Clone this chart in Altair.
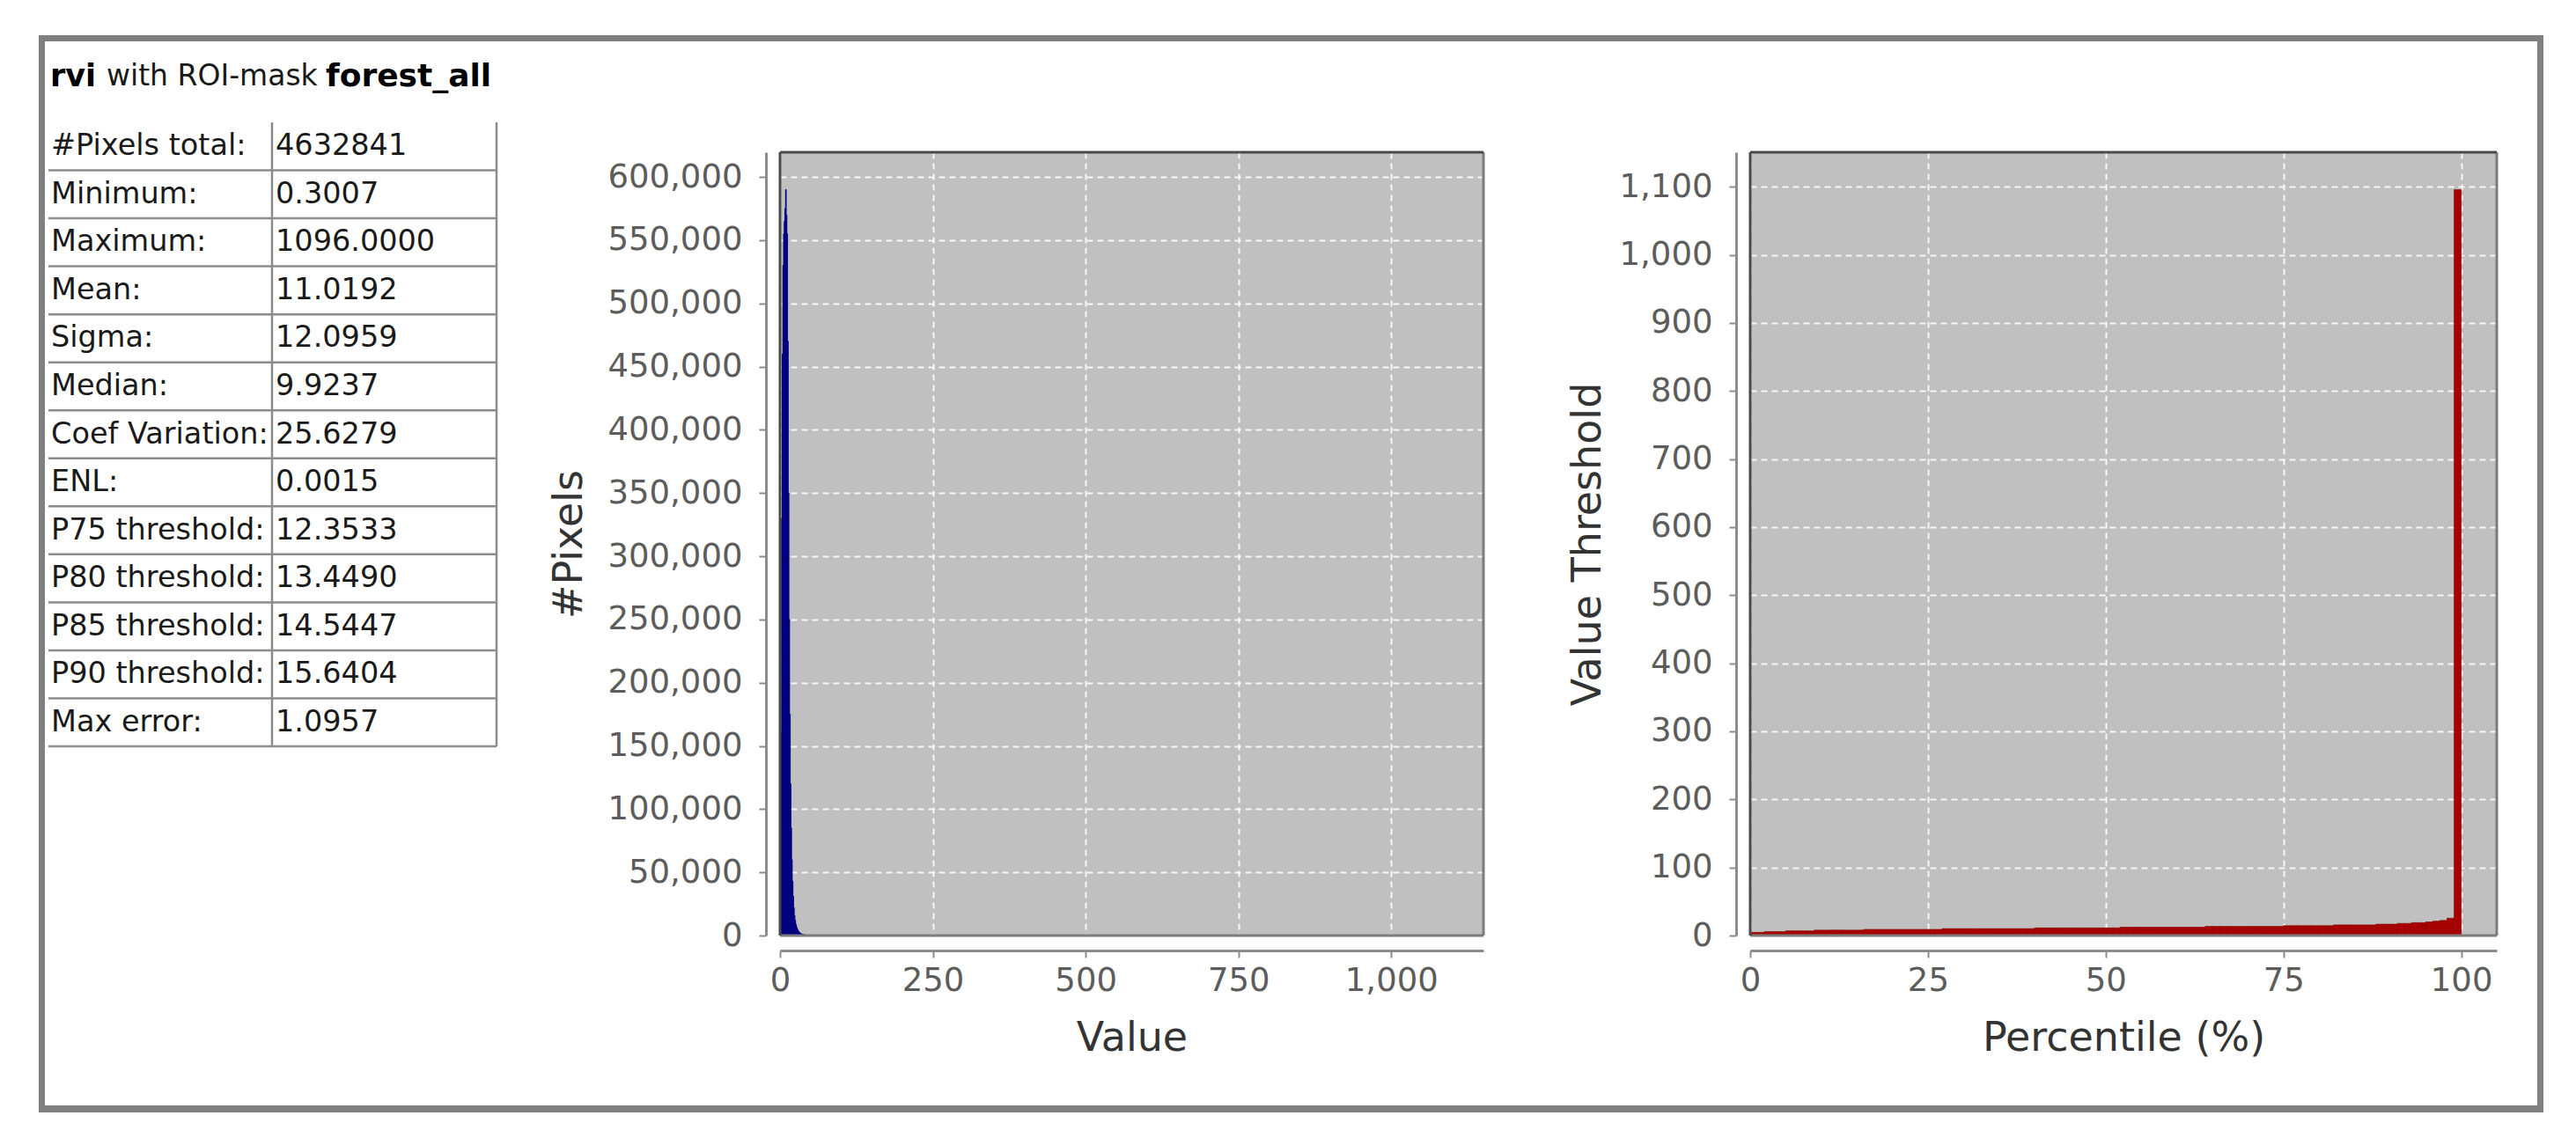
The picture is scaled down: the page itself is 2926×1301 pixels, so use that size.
import altair as alt
import pandas as pd

FONT = "DejaVu Sans"

# ---------------- data ----------------
TITLE_PARTS = ["rvi", "with ROI-mask", "forest_all"]

STAT_LABELS = [
    "#Pixels total:", "Minimum:", "Maximum:", "Mean:", "Sigma:", "Median:",
    "Coef Variation:", "ENL:", "P75 threshold:", "P80 threshold:",
    "P85 threshold:", "P90 threshold:", "Max error:",
]
STAT_VALUES = [
    "4632841", "0.3007", "1096.0000", "11.0192", "12.0959", "9.9237",
    "25.6279", "0.0015", "12.3533", "13.4490", "14.5447", "15.6404", "1.0957",
]

HIST_MIN = 0.3007
HIST_BIN_WIDTH = 1.0957
# counts of the first histogram bins (bin 0 starts at HIST_MIN)
HIST_COUNTS = [
    40000, 160000, 330000, 460000, 530000, 555000, 565000, 575000, 590000, 570000,
    555000, 470000, 350000, 250000, 175000, 120000, 85000, 60000, 43000, 31000,
    22000, 16000, 12000, 9000, 7000, 5500, 4300, 3400, 2700, 2100,
    1700, 1400, 1150, 950, 800, 680, 580, 500, 430, 370,
    320, 280, 245, 215, 190, 170, 150, 135, 120, 108,
    97, 88, 80, 72, 65, 59, 54, 49, 45, 41,
    37, 34, 31, 28, 26, 24, 22, 20, 18, 17,
    15, 14, 13, 12, 11, 10, 9, 8, 8, 7, 7, 6,
]
# sparse far tail
HIST_TAIL_BINS = [96, 118, 141, 187, 263, 412, 999]
HIST_TAIL_COUNTS = [5, 3, 2, 1, 1, 1, 1]

# value threshold of each 1 % percentile bar (bar i spans i .. i+1 %)
PERCENTILE_THRESHOLDS = [
    4.68, 4.68, 5.78, 5.78, 5.78, 6.87, 6.87, 6.87, 6.87, 7.97,
    7.97, 7.97, 7.97, 7.97, 7.97, 7.97, 9.07, 9.07, 9.07, 9.07,
    9.07, 9.07, 9.07, 9.07, 9.07, 9.07, 9.07, 10.16, 10.16, 10.16,
    10.16, 10.16, 10.16, 10.16, 10.16, 10.16, 10.16, 10.16, 10.16, 10.16,
    11.26, 11.26, 11.26, 11.26, 11.26, 11.26, 11.26, 11.26, 11.26, 11.26,
    11.26, 11.26, 12.35, 12.35, 12.35, 12.35, 12.35, 12.35, 12.35, 12.35,
    12.35, 12.35, 12.35, 12.35, 13.45, 13.45, 13.45, 13.45, 13.45, 13.45,
    13.45, 13.45, 13.45, 13.45, 13.45, 14.54, 14.54, 14.54, 14.54, 14.54,
    14.54, 14.54, 15.64, 15.64, 15.64, 15.64, 15.64, 15.64, 16.74, 16.74,
    16.74, 17.83, 17.83, 18.93, 18.93, 20.02, 21.12, 22.21, 25.50, 1096.0,
]

X_TICKS_VALUE = [0, 250, 500, 750, 1000]
Y_TICKS_PIXELS = [0, 50000, 100000, 150000, 200000, 250000, 300000,
                  350000, 400000, 450000, 500000, 550000, 600000]
X_TICKS_PCT = [0, 25, 50, 75, 100]
Y_TICKS_THRESH = [0, 100, 200, 300, 400, 500, 600, 700, 800, 900, 1000, 1100]

# ---------------- tables ----------------
stats_df = pd.DataFrame({
    "label": STAT_LABELS,
    "value": STAT_VALUES,
    "mid": [i + 0.5 for i in range(len(STAT_LABELS))],
})
sep_df = pd.DataFrame({"edge": list(range(1, len(STAT_LABELS) + 1))})
span_df = pd.DataFrame({"top": [0], "bottom": [len(STAT_LABELS)]})
one_df = pd.DataFrame({"k": [0]})

hist_bins = list(range(len(HIST_COUNTS))) + HIST_TAIL_BINS
hist_counts = HIST_COUNTS + HIST_TAIL_COUNTS
hist_df = pd.DataFrame({
    "start": [HIST_MIN + b * HIST_BIN_WIDTH for b in hist_bins],
    "end": [HIST_MIN + (b + 1) * HIST_BIN_WIDTH for b in hist_bins],
    "count": hist_counts,
})

pct_df = pd.DataFrame({
    "lo": list(range(len(PERCENTILE_THRESHOLDS))),
    "hi": [i + 1 for i in range(len(PERCENTILE_THRESHOLDS))],
    "threshold": PERCENTILE_THRESHOLDS,
})

# ---------------- panel 1 : statistics table ----------------
row_scale = alt.Scale(domain=[0, len(STAT_LABELS)], range=[-34, 675])
LINE = "#8c8c8c"

frame_outer = alt.Chart(one_df).mark_rect(color="#808080").encode(
    x=alt.value(-11), x2=alt.value(2834), y=alt.value(-133), y2=alt.value(1091))
frame_inner = alt.Chart(one_df).mark_rect(color="#ffffff").encode(
    x=alt.value(-4), x2=alt.value(2827), y=alt.value(-126), y2=alt.value(1083))

seps = alt.Chart(sep_df).mark_rule(color=LINE, strokeWidth=2.5).encode(
    y=alt.Y("edge:Q", scale=row_scale, axis=None),
    x=alt.value(0), x2=alt.value(509))
vline_mid = alt.Chart(span_df).mark_rule(color=LINE, strokeWidth=2.5).encode(
    x=alt.value(254),
    y=alt.Y("top:Q", scale=row_scale, axis=None), y2="bottom:Q")
vline_right = alt.Chart(span_df).mark_rule(color=LINE, strokeWidth=2.5).encode(
    x=alt.value(509),
    y=alt.Y("top:Q", scale=row_scale, axis=None), y2="bottom:Q")

lab_text = alt.Chart(stats_df).mark_text(
    align="left", baseline="middle", font=FONT, fontSize=33.5, color="#1a1a1a"
).encode(x=alt.value(3), y=alt.Y("mid:Q", scale=row_scale, axis=None), text="label:N")
val_text = alt.Chart(stats_df).mark_text(
    align="left", baseline="middle", font=FONT, fontSize=33.5, color="#1a1a1a"
).encode(x=alt.value(258), y=alt.Y("mid:Q", scale=row_scale, axis=None), text="value:N")

TITLE_Y = -86
t1 = alt.Chart(one_df).mark_text(align="left", baseline="middle", font=FONT, fontSize=35,
                                 fontWeight="bold", color="#000000").encode(
    x=alt.value(2), y=alt.value(TITLE_Y), text=alt.value(TITLE_PARTS[0]))
t2 = alt.Chart(one_df).mark_text(align="left", baseline="middle", font=FONT, fontSize=33,
                                 color="#1a1a1a").encode(
    x=alt.value(66), y=alt.value(TITLE_Y), text=alt.value(TITLE_PARTS[1]))
t3 = alt.Chart(one_df).mark_text(align="left", baseline="middle", font=FONT, fontSize=36,
                                 fontWeight="bold", color="#000000").encode(
    x=alt.value(315), y=alt.value(TITLE_Y), text=alt.value(TITLE_PARTS[2]))

table_panel = alt.layer(
    frame_outer, frame_inner, seps, vline_mid, vline_right, lab_text, val_text, t1, t2, t3
).properties(width=528, height=890, view=alt.ViewBackground(stroke="transparent"))


# ---------------- axes helper ----------------
def make_axis(title, values, is_x, title_pad):
    opts = dict(
        title=title, values=values, format=",d",
        domainColor="#8c8c8c", domainWidth=3,
        tickColor="#8c8c8c", tickWidth=2, tickSize=8,
        labelFont=FONT, labelFontSize=37, labelColor="#5c5c5c",
        labelFlush=False, labelOverlap=False,
        titleFont=FONT, titleFontSize=46, titleFontWeight="normal", titleColor="#333333",
        grid=True, gridColor="#ffffff", gridDash=[7, 5], gridWidth=2, gridOpacity=0.85,
    )
    if is_x:
        opts.update(offset=17, labelPadding=8, titlePadding=title_pad)
    else:
        opts.update(offset=16, labelPadding=19, titlePadding=title_pad)
    return alt.Axis(**opts)


PLOT_VIEW = alt.ViewBackground(fill="#c0c0c0", stroke="transparent")


def plot_border(w, h):
    dark = "#4a4a4a"
    mid = "#7c7c7c"
    top = alt.Chart(one_df).mark_rule(color=dark, strokeWidth=3).encode(
        x=alt.value(0), x2=alt.value(w), y=alt.value(0))
    left = alt.Chart(one_df).mark_rule(color=dark, strokeWidth=3).encode(
        x=alt.value(0), y=alt.value(0), y2=alt.value(h))
    bottom = alt.Chart(one_df).mark_rule(color=mid, strokeWidth=3).encode(
        x=alt.value(0), x2=alt.value(w), y=alt.value(h))
    right = alt.Chart(one_df).mark_rule(color=mid, strokeWidth=3).encode(
        x=alt.value(w), y=alt.value(0), y2=alt.value(h))
    return [bottom, right, top, left]


# ---------------- panel 2 : histogram ----------------
HW, HH = 799, 890
hist_bars = alt.Chart(hist_df).mark_bar(
    color="#000080", stroke="#000080", strokeWidth=0.9
).encode(
    x=alt.X("start:Q", scale=alt.Scale(domain=[0, 1150.8], nice=False, zero=False),
            axis=make_axis("Value", X_TICKS_VALUE, True, 25)),
    x2="end:Q",
    y=alt.Y("count:Q", scale=alt.Scale(domain=[0, 619500], nice=False),
            axis=make_axis("#Pixels", Y_TICKS_PIXELS, False, 19)),
    y2=alt.datum(0),
)
hist_panel = alt.layer(hist_bars, *plot_border(HW, HH)).properties(
    width=HW, height=HH, view=PLOT_VIEW)

# ---------------- panel 3 : percentile thresholds ----------------
PW, PH = 848, 890
pct_bars = alt.Chart(pct_df).mark_bar(
    color="#a80000", stroke="#850000", strokeWidth=0.6
).encode(
    x=alt.X("lo:Q", scale=alt.Scale(domain=[0, 105], nice=False, zero=False),
            axis=make_axis("Percentile (%)", X_TICKS_PCT, True, 25)),
    x2="hi:Q",
    y=alt.Y("threshold:Q", scale=alt.Scale(domain=[0, 1150.8], nice=False),
            axis=make_axis("Value Threshold", Y_TICKS_THRESH, False, 12)),
    y2=alt.datum(0),
)
pct_panel = alt.layer(pct_bars, *plot_border(PW, PH)).properties(
    width=PW, height=PH, view=PLOT_VIEW)

chart = alt.hconcat(
    table_panel, hist_panel, pct_panel, spacing=303, bounds="flush"
).properties(
    padding={"left": 35, "top": 31, "right": 12, "bottom": 12},
    background="#ffffff",
).configure(
    font=FONT,
    view=alt.ViewConfig(stroke="transparent"),
)

chart.save("out.html", embed_options={"renderer": "svg", "actions": False})
